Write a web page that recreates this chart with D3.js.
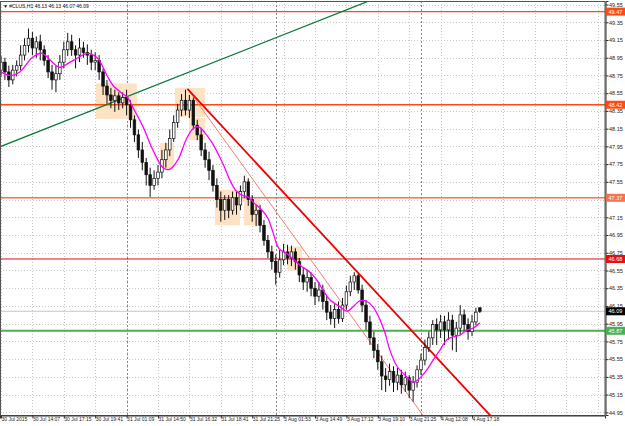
<!DOCTYPE html>
<html><head><meta charset="utf-8">
<script src="https://cdn.jsdelivr.net/npm/d3@7"></script>
<style>html,body{margin:0;padding:0;background:#fff;}svg{display:block;font-family:"Liberation Sans",Arial,sans-serif;}</style>
</head><body><svg id="c" width="625" height="426"></svg>
<script>
const title = "▼ #CLUS,H1  46.13 46.13 46.07 46.09";
const opens = [48.81,48.90,48.79,48.70,48.81,48.86,48.98,49.09,49.17,49.06,
49.13,49.04,48.92,48.79,48.70,48.77,48.90,49.04,49.13,49.04,
48.98,49.06,49.01,48.98,48.90,48.92,48.79,48.63,48.53,48.47,
48.52,48.44,48.50,48.42,48.25,48.08,47.91,47.77,47.63,47.51,
47.59,47.66,47.80,47.91,48.04,48.22,48.36,48.47,48.36,48.47,
48.19,48.08,47.91,47.80,47.68,47.51,47.35,47.23,47.35,47.23,
47.37,47.29,47.44,47.55,47.35,47.18,47.23,47.06,46.89,46.76,
46.65,46.53,46.67,46.76,46.69,46.76,46.65,46.50,46.42,46.47,
46.35,46.26,46.33,46.20,46.08,46.01,46.11,46.01,46.16,46.31,
46.42,46.49,46.33,46.16,45.97,45.79,45.65,45.52,45.36,45.32,
45.41,45.29,45.37,45.26,45.34,45.20,45.29,45.43,45.54,45.68,
45.79,45.94,45.88,45.97,45.88,45.99,45.82,45.90,46.05,45.94,
45.86,45.97,46.13];
const highs = [48.97,48.95,48.86,48.87,48.92,49.09,49.17,49.28,49.24,49.19,
49.21,49.09,48.98,48.87,48.86,48.98,49.13,49.23,49.21,49.09,
49.17,49.13,49.10,49.04,49.01,48.98,48.83,48.70,48.61,48.59,
48.56,48.56,48.59,48.47,48.30,48.14,48.00,47.82,47.71,47.68,
47.74,47.91,47.99,48.14,48.30,48.43,48.54,48.59,48.53,48.50,
48.25,48.16,47.99,47.89,47.74,47.59,47.44,47.40,47.40,47.44,
47.44,47.51,47.62,47.59,47.40,47.29,47.29,47.12,46.95,46.83,
46.73,46.78,46.85,46.84,46.83,46.80,46.69,46.58,46.56,46.53,
46.42,46.42,46.39,46.26,46.16,46.17,46.20,46.24,46.38,46.49,
46.53,46.51,46.39,46.22,46.04,45.86,45.72,45.59,45.45,45.50,
45.47,45.45,45.43,45.41,45.37,45.36,45.48,45.61,45.77,45.86,
45.99,46.01,46.05,46.04,46.08,46.05,45.97,46.16,46.11,46.01,
46.05,46.13,46.13];
const lows = [48.74,48.70,48.62,48.65,48.74,48.81,48.92,49.01,48.98,48.95,
48.92,48.86,48.72,48.59,48.56,48.70,48.83,48.97,48.97,48.83,
48.90,48.95,48.87,48.81,48.81,48.70,48.53,48.43,48.38,48.34,
48.36,48.38,48.30,48.16,48.00,47.82,47.68,47.51,47.38,47.46,
47.51,47.59,47.71,47.84,48.00,48.16,48.29,48.30,48.27,48.14,
48.02,47.84,47.71,47.57,47.44,47.26,47.10,47.12,47.14,47.18,
47.18,47.23,47.37,47.28,47.10,47.05,46.98,46.83,46.69,46.56,
46.39,46.47,46.61,46.62,46.60,46.56,46.42,46.33,46.31,46.26,
46.16,46.20,46.11,45.99,45.94,45.90,45.95,45.97,46.11,46.26,
46.33,46.29,46.08,45.88,45.71,45.56,45.43,45.20,45.18,45.25,
45.18,45.20,45.16,45.18,45.11,45.07,45.23,45.37,45.48,45.63,
45.71,45.71,45.79,45.71,45.77,45.65,45.63,45.82,45.86,45.77,
45.81,45.93,46.07];
const closes = [48.90,48.79,48.70,48.81,48.86,48.98,49.09,49.17,49.06,49.13,
49.04,48.92,48.79,48.70,48.77,48.90,49.04,49.13,49.04,48.98,
49.06,49.01,48.98,48.90,48.92,48.79,48.63,48.53,48.47,48.52,
48.44,48.50,48.42,48.25,48.08,47.91,47.77,47.63,47.51,47.59,
47.66,47.80,47.91,48.04,48.22,48.36,48.47,48.36,48.47,48.19,
48.08,47.91,47.80,47.68,47.51,47.35,47.23,47.35,47.23,47.37,
47.29,47.44,47.55,47.35,47.18,47.23,47.06,46.89,46.76,46.65,
46.53,46.67,46.76,46.69,46.76,46.65,46.50,46.42,46.47,46.35,
46.26,46.33,46.20,46.08,46.01,46.11,46.01,46.16,46.31,46.42,
46.49,46.33,46.16,45.97,45.79,45.65,45.52,45.36,45.32,45.41,
45.29,45.37,45.26,45.34,45.20,45.29,45.43,45.54,45.68,45.79,
45.94,45.88,45.97,45.88,45.99,45.82,45.90,46.05,45.94,45.86,
45.97,46.08,46.09];

const maBars = [0,2.3,4.8,7.9,10.4,13.8,15,17.6,19.6,21.9,24.5,27,28.5,30.8,32.1,33.6,36.2,38.7,41.3,43,45.1,47.1,48.9,50.4,52,53.8,55.5,57,58.3,59.9,61.4,62.9,64.5,66.5,68,69.3,70.8,73.1,76.2,78.7,80.5,82,83.8,86.4,88.2,89.7,91.5,93.2,94.8,96.6,97.8,99.1,100.9,103.4,105,106.3,108.5,110.1,111.8,113.6,115.2,116.9,118.7,120.3,122];
const maValues = [48.79,48.75,48.79,48.95,49.00,48.87,48.84,48.90,48.95,49.00,48.95,48.75,48.64,48.55,48.51,48.39,48.17,47.91,47.71,47.69,47.80,48.02,48.15,48.17,48.10,47.99,47.85,47.71,47.57,47.45,47.40,47.38,47.31,47.23,47.14,46.98,46.80,46.73,46.61,46.53,46.44,46.33,46.22,46.14,46.09,46.14,46.21,46.20,46.14,45.99,45.85,45.65,45.47,45.35,45.29,45.32,45.43,45.54,45.65,45.77,45.80,45.82,45.88,45.90,45.96];

const timeTickBars = [0,8,16,24,32,40,48,56,64,72,80,88,96,104,112,120];
const timeTickLabels = ["30 Jul 2015","30 Jul 14:07","30 Jul 17:15","30 Jul 19:41","31 Jul 01:09","31 Jul 14:50","31 Jul 16:32","31 Jul 18:41","31 Jul 21:25","3 Aug 01:53","3 Aug 14:49","3 Aug 17:12","3 Aug 19:10","3 Aug 21:25","4 Aug 12:08","4 Aug 17:18"];
const extraGridBars = [128,136,144,152];
const daySeparatorBars = [32,70,107];
const priceTicks = d3.range(24).map(k => +(44.95 + 0.2*k).toFixed(2));

const hLevels = [49.47, 48.42, 47.37, 46.68, 45.87];
const hLevelColors = ["#ff4a12", "#ff4a12", "#f4734a", "#e01010", "#4caf50"];
const bidPrice = 46.09;

// rectangles: [bar0, bar1, priceTop, priceBottom]
const rectBar0 = [24.2, 40.5, 44.3, 47.9, 54.5, 61.9, 72.9];
const rectBar1 = [34.6, 44.1, 52.0, 52.0, 60.9, 66.0, 76.7];
const rectTop = [48.66, 47.99, 48.61, 48.27, 47.46, 47.35, 46.82];
const rectBottom = [48.26, 47.68, 48.28, 48.02, 47.06, 47.06, 46.55];

// trend lines: anchor points (bar, price)
const greenLine = [[0, 47.95], [32, 48.51]];
const redLine = [[47.5, 48.60], [90, 46.57]];
const thinLine = [[47.5, 48.60], [105, 45.07]];

const W = 625, H = 426;
const plot = {l: 0, t: 1, r: 605, b: 415};
const svg = d3.select("#c");
const x = d3.scaleLinear().domain([-0.255, (605 - 1) / 3.925]).range([plot.l, plot.r]);
const y = d3.scaleLinear().domain([44.92, 49.59]).range([plot.b, plot.t]);

svg.append("defs").append("clipPath").attr("id", "clip")
  .append("rect").attr("x", plot.l).attr("y", plot.t).attr("width", plot.r - plot.l).attr("height", plot.b - plot.t);

const g = svg.append("g");
const pg = g.append("g").attr("clip-path", "url(#clip)");

// grid
pg.selectAll(".hg").data(priceTicks).enter().append("line")
  .attr("x1", plot.l).attr("x2", plot.r)
  .attr("y1", d => Math.round(y(d)) + 0.5).attr("y2", d => Math.round(y(d)) + 0.5)
  .attr("stroke", "#c8c8c8").attr("stroke-dasharray", "1,2");
pg.selectAll(".vg").data(timeTickBars.concat(extraGridBars)).enter().append("line")
  .attr("x1", d => Math.round(x(d)) + 0.5).attr("x2", d => Math.round(x(d)) + 0.5)
  .attr("y1", plot.t).attr("y2", plot.b)
  .attr("stroke", "#c8c8c8").attr("stroke-dasharray", "1,2");
pg.selectAll(".sep").data(daySeparatorBars).enter().append("line")
  .attr("x1", d => Math.round(x(d)) + 0.5).attr("x2", d => Math.round(x(d)) + 0.5)
  .attr("y1", plot.t).attr("y2", plot.b)
  .attr("stroke", "#888").attr("stroke-dasharray", "2,2");

// rectangles
pg.selectAll(".box").data(rectBar0).enter().append("rect")
  .attr("x", (d, i) => x(d)).attr("width", (d, i) => x(rectBar1[i]) - x(d))
  .attr("y", (d, i) => y(rectTop[i])).attr("height", (d, i) => y(rectBottom[i]) - y(rectTop[i]))
  .attr("fill", "#fde2c4");

// horizontal levels
pg.selectAll(".lvl").data(hLevels).enter().append("line")
  .attr("x1", plot.l).attr("x2", plot.r)
  .attr("y1", d => y(d)).attr("y2", d => y(d))
  .attr("stroke", (d, i) => hLevelColors[i])
  .attr("stroke-width", (d, i) => i === 4 ? 2 : (i === 3 ? 1 : 1.4));
pg.append("line").attr("x1", plot.l).attr("x2", plot.r)
  .attr("y1", y(bidPrice)).attr("y2", y(bidPrice)).attr("stroke", "#c8c8c8");

// trend lines
function rayPts(a, extendLeft) {
  const slope = (a[1][1] - a[0][1]) / (a[1][0] - a[0][0]);
  const b0 = extendLeft ? -5 : a[0][0];
  const b1 = 200;
  return [[b0, a[0][1] + slope * (b0 - a[0][0])], [b1, a[0][1] + slope * (b1 - a[0][0])]];
}
const lineGen = d3.line().x(d => x(d[0])).y(d => y(d[1]));
pg.append("path").attr("d", lineGen(rayPts(greenLine, true))).attr("stroke", "#0a7a3a").attr("stroke-width", 1.3).attr("fill", "none");
pg.append("path").attr("d", lineGen(rayPts(thinLine, false))).attr("stroke", "#f08070").attr("stroke-width", 1).attr("fill", "none");
pg.append("path").attr("d", lineGen(rayPts(redLine, false))).attr("stroke", "#ee0000").attr("stroke-width", 1.8).attr("fill", "none");

// candles
const cw = 2.6;
const cg = pg.append("g");
opens.forEach((o, i) => {
  const cx = x(i);
  const c = closes[i];
  cg.append("line").attr("x1", cx).attr("x2", cx).attr("y1", y(highs[i])).attr("y2", y(lows[i]))
    .attr("stroke", "#111").attr("stroke-width", 1);
  const top = y(Math.max(o, c)), bot = y(Math.min(o, c));
  const bull = c >= o;
  cg.append("rect").attr("x", cx - cw / 2).attr("y", top).attr("width", cw).attr("height", Math.max(0.8, bot - top))
    .attr("fill", bull ? "#fff" : "#111").attr("stroke", "#111").attr("stroke-width", 0.7);
});

// moving average
pg.append("path")
  .attr("d", d3.line().x(d => x(d)).y((d, i) => y(maValues[i])).curve(d3.curveCatmullRom)(maBars))
  .attr("stroke", "#ff00ff").attr("stroke-width", 1.3).attr("fill", "none");

// border
g.append("rect").attr("x", plot.l + 0.5).attr("y", plot.t + 0.5).attr("width", plot.r - plot.l - 0.5).attr("height", plot.b - plot.t)
  .attr("fill", "none").attr("stroke", "#555");

// right axis
const labelLevels = hLevels.concat([bidPrice]);
const ya = d3.axisRight(y).tickValues(priceTicks).tickSize(3).tickFormat(d3.format(".2f"));
const yag = g.append("g").attr("transform", `translate(${plot.r + 0.5},0)`).call(ya);
yag.select(".domain").attr("stroke", "#333");
yag.selectAll(".tick line").attr("stroke", "#333");
yag.selectAll("text").attr("font-size", 5.5).attr("fill", "#222").attr("x", 3.5)
  .style("display", d => labelLevels.some(v => Math.abs(y(v) - y(d)) < 4.5) ? "none" : null);

// bottom axis
const xa = d3.axisBottom(x).tickValues(timeTickBars).tickSize(3).tickFormat((d, i) => timeTickLabels[i]);
const xag = g.append("g").attr("transform", `translate(0,${plot.b + 0.5})`).call(xa);
xag.select(".domain").attr("stroke", "#333");
xag.selectAll(".tick line").attr("stroke", "#333");
xag.selectAll("text").attr("font-size", 5).attr("fill", "#222").attr("text-anchor", "start").attr("dy", "0.55em").attr("y", 3);

// price labels on axis
const labelData = hLevels.map((v, i) => ({v, c: hLevelColors[i]})).concat([{v: bidPrice, c: "#000"}]);
const lg = g.append("g");
labelData.forEach(dd => {
  const yy = y(dd.v);
  lg.append("rect").attr("x", plot.r + 1).attr("y", yy - 4).attr("width", 19).attr("height", 8).attr("fill", dd.c);
  lg.append("text").attr("x", plot.r + 3.5).attr("y", yy + 2).attr("font-size", 5.5).attr("fill", "#fff").text(dd.v.toFixed(2));
});

// title
g.append("text").attr("x", 3).attr("y", 8).attr("font-size", 5).attr("fill", "#111").text(title);
</script></body></html>
